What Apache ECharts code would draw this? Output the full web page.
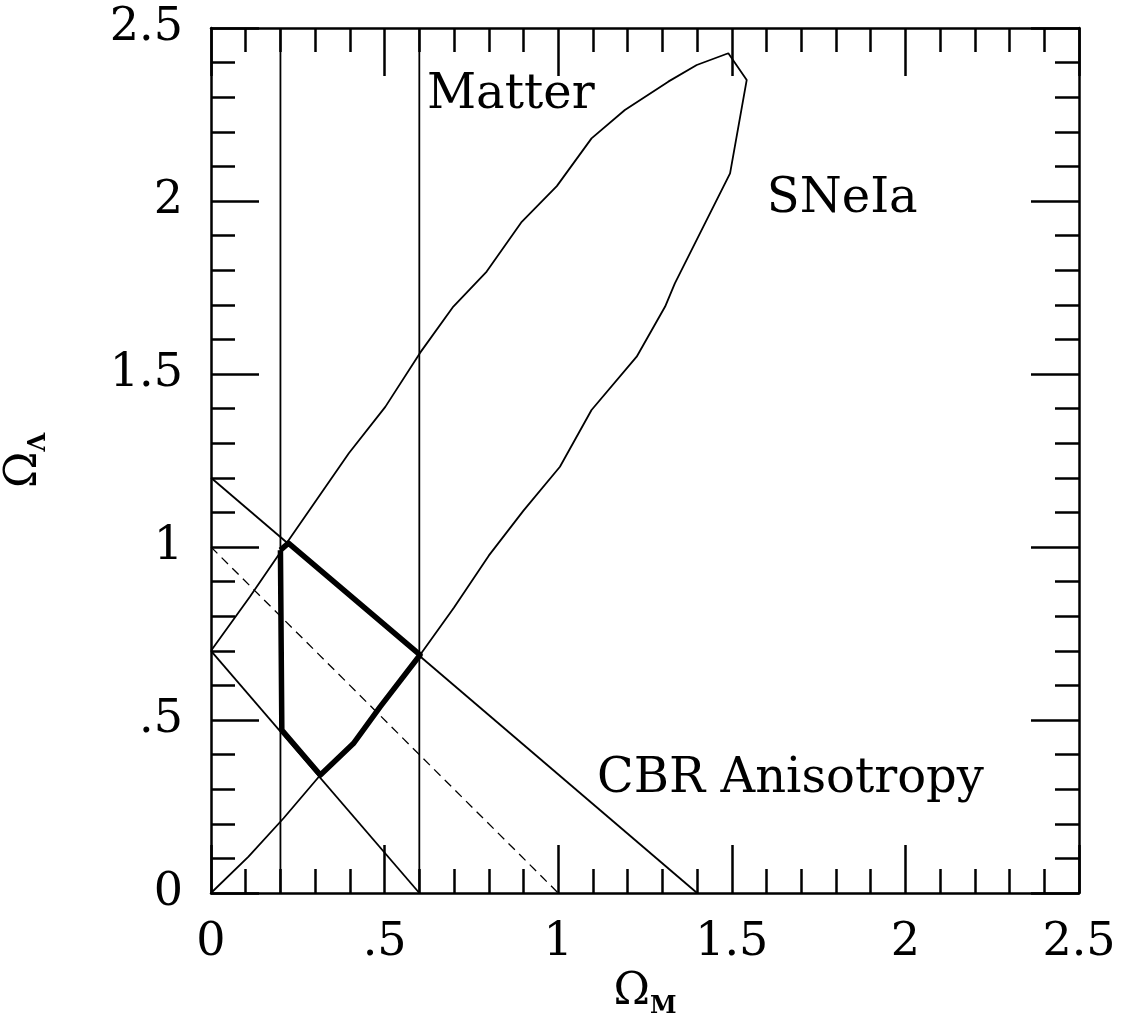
<!DOCTYPE html>
<html>
<head>
<meta charset="utf-8">
<script src="https://cdn.jsdelivr.net/npm/echarts@6/dist/echarts.min.js"></script>
<style>html,body{margin:0;padding:0;background:#fff}#c{width:1127px;height:1019px}</style>
</head>
<body>
<div id="c"></div>
<script>
// ---- data ----
var tickLabels = ['0', '.5', '1', '1.5', '2', '2.5'];
var matterBounds = [0.2, 0.6];
var cbrUpper = [[0, 1.2], [1.4, 0]];
var cbrLower = [[0, 0.7], [0.6, 0]];
var flatLine = [[0, 1.0], [1.0, 0]];
var sneContour = [
  [0, 0.70], [0.112, 0.856], [0.224, 1.02], [0.397, 1.271], [0.502, 1.405],
  [0.602, 1.561], [0.698, 1.695], [0.794, 1.796], [0.895, 1.94], [0.996, 2.043],
  [1.096, 2.181], [1.192, 2.263], [1.317, 2.345], [1.399, 2.393], [1.49, 2.427],
  [1.543, 2.35], [1.495, 2.08], [1.418, 1.926], [1.336, 1.762], [1.308, 1.695],
  [1.226, 1.55], [1.096, 1.396], [1.005, 1.232], [0.9, 1.105], [0.8, 0.975],
  [0.7, 0.825], [0.602, 0.688], [0.487, 0.538], [0.41, 0.432], [0.315, 0.341],
  [0.209, 0.216], [0.108, 0.105], [0, 0]
];
var allowedRegion = [
  [0.2, 0.991], [0.223, 1.011], [0.602, 0.688], [0.487, 0.538], [0.41, 0.432],
  [0.315, 0.341], [0.204, 0.471], [0.2, 0.991]
];
var textLabels = [
  {name: 'Matter', value: [0.622, 2.306]},
  {name: 'SNeIa', value: [1.601, 2.003]},
  {name: 'CBR Anisotropy', value: [1.112, 0.327]}
];

var serif = 'DejaVu Serif';
function fmt(v) { return tickLabels[Math.round(v / 0.5)]; }

function axisBase(pos, showLabel) {
  return {
    type: 'value', min: 0, max: 2.5, interval: 0.5, position: pos,
    axisLine: {show: true, onZero: false, lineStyle: {color: '#000', width: 2.5}},
    axisTick: {show: true, inside: true, length: 48, lineStyle: {color: '#000', width: 2.5}},
    minorTick: {show: true, splitNumber: 5, length: 24, lineStyle: {color: '#000', width: 2.5}},
    splitLine: {show: false},
    axisLabel: {show: showLabel, formatter: fmt, color: '#000', fontFamily: serif, fontSize: 46}
  };
}

var xBottom = axisBase('bottom', true);
xBottom.axisLabel.margin = 27;
xBottom.name = '{o|Ω}{s|M}';
xBottom.nameLocation = 'middle';
xBottom.nameGap = 74;
xBottom.nameTextStyle = {
  rich: {
    o: {fontFamily: serif, fontSize: 44, color: '#000', verticalAlign: 'top'},
    s: {fontFamily: serif, fontSize: 24, color: '#000', fontWeight: 'bold', padding: [24, 0, 0, 0], verticalAlign: 'top'}
  }
};
var xTop = axisBase('top', false);
var yLeft = axisBase('left', true);
yLeft.axisLabel.margin = 28;
yLeft.name = '{o|Ω}{s|Λ}';
yLeft.nameLocation = 'middle';
yLeft.nameGap = 160;
yLeft.nameRotate = 90;
yLeft.nameTextStyle = xBottom.nameTextStyle;
var yRight = axisBase('right', false);

var thin = {color: '#000', width: 1.8};
function seg(data, style) {
  return {type: 'line', xAxisIndex: 0, yAxisIndex: 0, data: data, symbol: 'none',
    lineStyle: style, silent: true, animation: false, z: 3};
}

var series = [];
matterBounds.forEach(function (m) { series.push(seg([[m, 0], [m, 2.5]], thin)); });
series.push(seg(cbrUpper, thin));
series.push(seg(cbrLower, thin));
series.push(seg(flatLine, {color: '#000', width: 1.3, type: [9, 6]}));
series.push(seg(sneContour, thin));
series.push(seg(allowedRegion, {color: '#000', width: 5.5, join: 'round'}));
series.push({
  type: 'scatter', data: textLabels, symbolSize: 0, silent: true, animation: false,
  itemStyle: {color: '#000', opacity: 1},
  label: {show: true, position: 'inside', align: 'left', verticalAlign: 'middle',
    formatter: '{b}', color: '#000', opacity: 1, textBorderWidth: 0, textBorderColor: 'transparent',
    fontFamily: serif, fontSize: 48}
});

var chart = echarts.init(document.getElementById('c'), null, {renderer: 'canvas'});
chart.setOption({
  backgroundColor: '#fff',
  animation: false,
  grid: {left: 211, right: 48, top: 28, bottom: 126, containLabel: false, outerBoundsMode: 'none'},
  xAxis: [xBottom, xTop],
  yAxis: [yLeft, yRight],
  series: series
});
</script>
</body>
</html>
